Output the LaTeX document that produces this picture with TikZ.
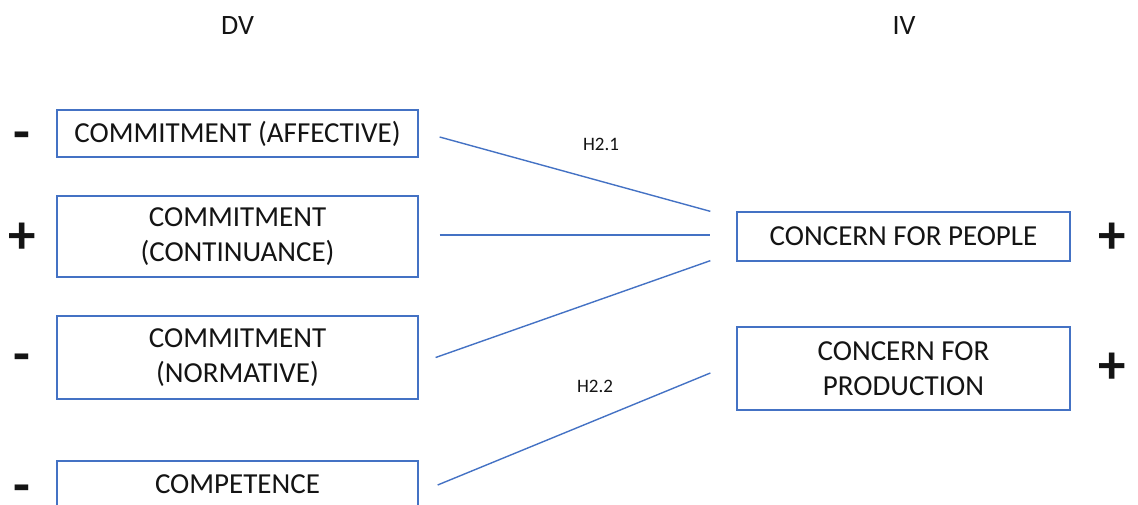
\documentclass[tikz,border=0pt]{standalone}
\usepackage{fontspec}
\setmainfont{Carlito}
\usetikzlibrary{calc}
\definecolor{boxblue}{RGB}{68,114,196}
\definecolor{ink}{RGB}{20,20,20}
\tikzset{
  x=1pt, y=-1pt,
  varbox/.style={draw=boxblue, line width=1.3pt, fill=white, text=ink, align=center,
    inner sep=0pt, font=\fontsize{29}{35}\selectfont},
  leftbox/.style={varbox, minimum width=361pt},
  rightbox/.style={varbox, minimum width=333pt},
  sign/.style={text=ink, inner sep=0pt, anchor=base, font=\fontsize{55}{55}\selectfont\bfseries},
  head/.style={text=ink, inner sep=0pt, font=\fontsize{28}{32}\selectfont},
  hyp/.style={text=ink, inner sep=0pt, font=\fontsize{19}{22}\selectfont},
  link/.style={draw=boxblue, line width=1.4pt},
}
\begin{document}
\begin{tikzpicture}
\useasboundingbox (0,0) rectangle (1138,504);
\clip (0,0) rectangle (1138,504);

% column headings
\node[head] (dv) at (237.5,25.5) {DV};
\node[head] (iv) at (904,25.5) {IV};

% dependent variables
\node[leftbox, minimum height=47pt] (b1) at (237.5,133.5) {COMMITMENT (AFFECTIVE)};
\node[leftbox, minimum height=81pt] (b2) at (237.5,236.5) {COMMITMENT\\(CONTINUANCE)};
\node[leftbox, minimum height=83pt] (b3) at (237.5,357.5) {COMMITMENT\\(NORMATIVE)};
\node[leftbox, minimum height=47pt] (b4) at (237.5,484.5) {COMPETENCE};

% independent variables
\node[rightbox, minimum height=49pt] (p1) at (903.5,236.5) {CONCERN FOR PEOPLE};
\node[rightbox, minimum height=83pt] (p2) at (903.5,368.5) {CONCERN FOR\\PRODUCTION};

% signs (placed by baseline)
\node[sign] (s1) at (22,150) {-};
\node[sign] (s2) at (22,253) {+};
\node[sign] (s3) at (22,372) {-};
\node[sign] (s4) at (22,503.5) {-};
\node[sign] (s5) at (1112,253) {+};
\node[sign] (s6) at (1112,383) {+};

% hypothesised links
\draw[link] ($(b1.east)+(21,3.5)$) -- ($(p1.north west)+(-26,0)$);
\draw[link] ($(b2.east)+(21,-1.5)$) -- ($(p1.west)+(-26,-1.5)$);
\draw[link] ($(b3.east)+(17,0)$) -- ($(p1.south west)+(-26,-1)$);
\draw[link] ($(b4.east)+(19,0.5)$) -- ($(p2.west)+(-26,4.5)$);

\node[hyp] (h1) at (601,144.5) {H2.1};
\node[hyp] (h2) at (595,386) {H2.2};
\end{tikzpicture}
\end{document}
